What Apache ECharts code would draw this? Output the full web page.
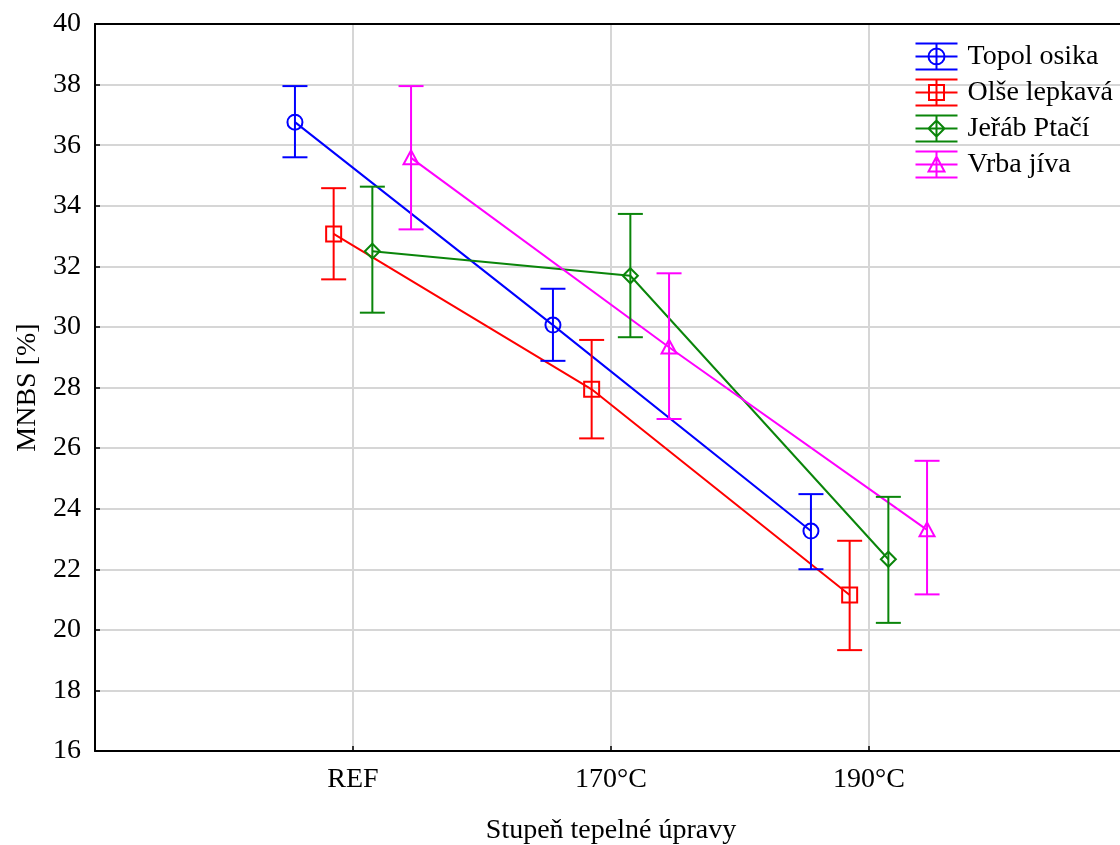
<!DOCTYPE html>
<html>
<head>
<meta charset="utf-8">
<script src="https://cdn.jsdelivr.net/npm/echarts@6/dist/echarts.min.js"></script>
<style>
  html, body { margin: 0; padding: 0; background: #fff; }
  #chart { width: 1120px; height: 845px; }
</style>
</head>
<body>
<div id="chart"></div>
<script>
// categories on the x axis (placed at 1, 2, 3)
const categories = ['REF', '170°C', '190°C'];
const yTicks = [16, 18, 20, 22, 24, 26, 28, 30, 32, 34, 36, 38, 40];

// Topol osika
const topolMean = [36.76, 30.06, 23.26];
const topolLow = [35.6, 28.88, 22.0];
const topolHigh = [37.95, 31.26, 24.48];
// Olše lepkavá
const olseMean = [33.07, 27.94, 21.15];
const olseLow = [31.57, 26.32, 19.33];
const olseHigh = [34.58, 29.57, 22.94];
// Jeřáb Ptačí
const jerabMean = [32.5, 31.69, 22.33];
const jerabLow = [30.47, 29.66, 20.23];
const jerabHigh = [34.63, 33.73, 24.39];
// Vrba jíva
const vrbaMean = [35.58, 29.33, 23.3];
const vrbaLow = [33.22, 26.96, 21.17];
const vrbaHigh = [37.95, 31.77, 25.58];

const FONT = '"Liberation Serif", "Times New Roman", serif';
const FS = 28;

const speciesList = [
    {name: 'Topol osika', color: '#0000ff', marker: 'circle', offset: -0.225,
        mean: topolMean, low: topolLow, high: topolHigh,
        icon: 'path://M0,0H42M0,13H42M0,26H42M21,0V26M29,13A8,8,0,1,1,13,13A8,8,0,1,1,29,13'},
    {name: 'Olše lepkavá', color: '#ff0000', marker: 'rect', offset: -0.075,
        mean: olseMean, low: olseLow, high: olseHigh,
        icon: 'path://M0,0H42M0,13H42M0,26H42M21,0V26M13.5,5.5H28.5V20.5H13.5Z'},
    {name: 'Jeřáb Ptačí', color: '#0a850a', marker: 'diamond', offset: 0.075,
        mean: jerabMean, low: jerabLow, high: jerabHigh,
        icon: 'path://M0,0H42M0,13H42M0,26H42M21,0V26M21,5L29,13L21,21L13,13Z'},
    {name: 'Vrba jíva', color: '#ff00ff', marker: 'triangle', offset: 0.225,
        mean: vrbaMean, low: vrbaLow, high: vrbaHigh,
        icon: 'path://M0,0H42M0,13H42M0,26H42M21,0V26M21,5L29,20H13Z'}
];

// marker shapes, drawn hollow so the bar and line show through
function markerShape(kind, cx, cy, r){
    if (kind === 'circle') return {type: 'circle', shape: {cx: cx, cy: cy, r: r}};
    if (kind === 'rect') return {type: 'rect', shape: {x: cx - r, y: cy - r, width: 2 * r, height: 2 * r}};
    if (kind === 'diamond') return {type: 'polygon', shape: {points: [[cx, cy - r], [cx + r, cy], [cx, cy + r], [cx - r, cy]]}};
    return {type: 'polygon', shape: {points: [[cx, cy - r], [cx + r, cy + r * 0.85], [cx - r, cy + r * 0.85]]}};
}

function buildSeries(sp){
    let points = sp.mean.map((m, i) => [i + 1 + sp.offset, m]);
    let bars = sp.mean.map((m, i) => [i + 1 + sp.offset, m, sp.low[i], sp.high[i]]);
    return [
        {
            name: sp.name,
            type: 'line',
            data: points,
            symbol: 'none',
            lineStyle: {color: sp.color, width: 2},
            itemStyle: {color: sp.color},
            z: 2,
            animation: false
        },
        {
            name: sp.name,
            type: 'custom',
            data: bars,
            z: 3,
            animation: false,
            encode: {x: 0, y: [1, 2, 3]},
            itemStyle: {color: sp.color},
            renderItem: function(params, api){
                let x = api.value(0);
                let c = api.coord([x, api.value(1)]);
                let lo = api.coord([x, api.value(2)]);
                let hi = api.coord([x, api.value(3)]);
                let half = 12.5;
                let st = {stroke: sp.color, lineWidth: 2, fill: 'none'};
                let mk = markerShape(sp.marker, c[0], c[1], 7.5);
                mk.style = st;
                return {
                    type: 'group',
                    children: [
                        {type: 'line', shape: {x1: lo[0], y1: lo[1], x2: hi[0], y2: hi[1]}, style: st},
                        {type: 'line', shape: {x1: lo[0] - half, y1: lo[1], x2: lo[0] + half, y2: lo[1]}, style: st},
                        {type: 'line', shape: {x1: hi[0] - half, y1: hi[1], x2: hi[0] + half, y2: hi[1]}, style: st},
                        mk
                    ]
                };
            }
        }
    ];
}

let series = [];
speciesList.forEach(sp => { series = series.concat(buildSeries(sp)); });

const chart = echarts.init(document.getElementById('chart'), null, {renderer: 'canvas'});

const option = {
    backgroundColor: '#fff',
    animation: false,
    textStyle: {fontFamily: FONT, color: '#000'},
    grid: {left: 95, top: 24, right: -7, bottom: 94, containLabel: false, outerBoundsMode: 'none'},
    legend: {
        left: 913,
        top: 41,
        padding: 0,
        orient: 'vertical',
        itemWidth: 42,
        itemHeight: 26,
        itemGap: 5,
        selectedMode: false,
        textStyle: {fontFamily: FONT, fontSize: FS, lineHeight: 26, color: '#000', padding: [0, 0, 0, 5]},
        data: speciesList.map(sp => ({
            name: sp.name,
            icon: sp.icon,
            itemStyle: {color: 'none', borderColor: sp.color, borderWidth: 2}
        }))
    },
    xAxis: [
        {
            type: 'value',
            min: 0,
            max: 4,
            interval: 1,
            name: 'Stupeň tepelné úpravy',
            nameLocation: 'middle',
            nameGap: 66,
            nameTextStyle: {fontFamily: FONT, fontSize: FS, color: '#000'},
            axisLine: {show: true, lineStyle: {color: '#000', width: 2}},
            axisTick: {show: true, inside: true, length: 5, lineStyle: {color: '#000', width: 1.5}},
            axisLabel: {
                fontFamily: FONT, fontSize: FS, color: '#000', margin: 15,
                formatter: v => categories[v - 1] || ''
            },
            splitLine: {show: true, lineStyle: {color: '#d6d6d6', width: 2}}
        },
        {
            type: 'value',
            position: 'top',
            min: 0,
            max: 4,
            axisLine: {show: true, lineStyle: {color: '#000', width: 2}},
            axisTick: {show: false},
            axisLabel: {show: false},
            splitLine: {show: false}
        }
    ],
    yAxis: {
        type: 'value',
        min: yTicks[0],
        max: yTicks[yTicks.length - 1],
        interval: 2,
        name: 'MNBS [%]',
        nameLocation: 'middle',
        nameGap: 52,
        nameTextStyle: {fontFamily: FONT, fontSize: FS, color: '#000'},
        axisLine: {show: true, lineStyle: {color: '#000', width: 2}},
        axisTick: {show: true, inside: true, length: 5, lineStyle: {color: '#000', width: 1.5}},
        axisLabel: {fontFamily: FONT, fontSize: FS, color: '#000', margin: 14},
        splitLine: {show: true, lineStyle: {color: '#d6d6d6', width: 2}}
    },
    series: series
};

chart.setOption(option);
</script>
</body>
</html>
